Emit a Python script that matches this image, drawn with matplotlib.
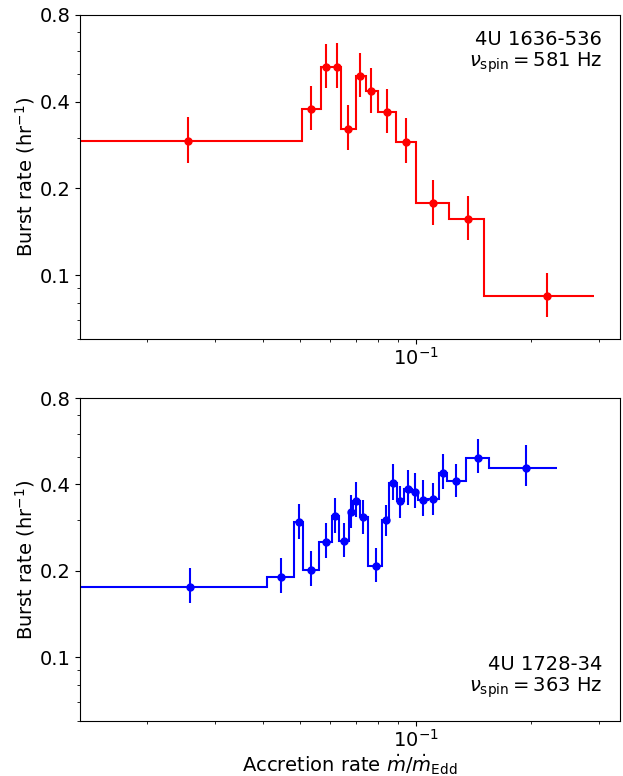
import numpy as np
import matplotlib
matplotlib.use("Agg")
import matplotlib.pyplot as plt
from matplotlib.ticker import NullFormatter


# 4U 1636-536 (top panel, red)
edges_1636 = [0.013, 0.05057, 0.05675, 0.06026, 0.06387, 0.06986, 0.07416,
              0.07998, 0.08874, 0.1002, 0.1220, 0.1502, 0.2905]
mdot_1636 = [0.02563, 0.05356, 0.05848, 0.06235, 0.06683, 0.07168, 0.07655,
             0.08409, 0.09419, 0.1111, 0.1365, 0.2197]
rate_1636 = [0.2922, 0.3773, 0.528, 0.528, 0.3223, 0.4913, 0.4357,
             0.3676, 0.2898, 0.1775, 0.1567, 0.0848]
rate_hi_1636 = [0.354, 0.4534, 0.6345, 0.6396, 0.3894, 0.5918, 0.5237,
                0.4426, 0.3511, 0.2141, 0.1886, 0.1019]
rate_lo_1636 = [0.2450, 0.3190, 0.4463, 0.4463, 0.2718, 0.4153, 0.3664,
                0.3114, 0.2450, 0.1494, 0.1324, 0.0716]

# 4U 1728-34 (bottom panel, blue)
edges_1728 = [0.013, 0.04102, 0.04829, 0.05106, 0.05619, 0.06050, 0.06321,
              0.06692, 0.06886, 0.07168, 0.07531, 0.08177, 0.08541, 0.08925,
              0.09341, 0.09763, 0.1016, 0.1078, 0.1150, 0.1206, 0.1349,
              0.1550, 0.2328]
mdot_1728 = [0.02593, 0.04468, 0.04975, 0.05356, 0.05830, 0.06179, 0.06501,
             0.06779, 0.06997, 0.07311, 0.07865, 0.08374, 0.08716, 0.09104,
             0.09533, 0.09959, 0.1043, 0.1111, 0.1175, 0.1276, 0.1449, 0.1934]
rate_1728 = [0.1761, 0.1904, 0.2949, 0.2018, 0.2524, 0.3096, 0.2550,
             0.3207, 0.3505, 0.3084, 0.2082, 0.3015, 0.4045, 0.3491,
             0.3855, 0.3764, 0.3539, 0.3559, 0.4401, 0.4110, 0.4962, 0.4581]
rate_hi_1728 = [0.2050, 0.2224, 0.3428, 0.2348, 0.2933, 0.3596, 0.2928,
                0.3683, 0.4087, 0.3539, 0.2409, 0.3401, 0.4707, 0.3936,
                0.4498, 0.4380, 0.4130, 0.4045, 0.5110, 0.4701, 0.5750, 0.5495]
rate_lo_1728 = [0.1549, 0.1678, 0.2585, 0.1769, 0.2220, 0.2718, 0.2241,
                0.2830, 0.3081, 0.2692, 0.1822, 0.2653, 0.3539, 0.3057,
                0.3401, 0.3312, 0.3114, 0.3138, 0.3855, 0.3625, 0.4380, 0.3936]

y_ticks = [0.1, 0.2, 0.4, 0.8]
y_tick_labels = ["0.1", "0.2", "0.4", "0.8"]

plt.rcParams["font.size"] = 14

fig = plt.figure(figsize=(6.23, 7.76), dpi=100)
ax_top = fig.add_axes([80 / 623, 1 - 339 / 776, 540 / 623, 324 / 776])
ax_bot = fig.add_axes([80 / 623, 1 - 721 / 776, 540 / 623, 323 / 776])


def draw_panel(ax, edges, x, y, lo, hi, color, label, text_y, va):
    y = np.array(y)
    yerr = [y - np.array(lo), np.array(hi) - y]
    ax.stairs(y, edges, baseline=None, color=color, lw=1.5)
    ax.errorbar(x, y, yerr=yerr, fmt="o", color=color, ms=5, elinewidth=1.5,
                capsize=0)
    ax.set_xscale("log")
    ax.set_yscale("log")
    ax.set_xlim(0.0134, 0.34)
    ax.set_ylim(0.06, 0.8)
    ax.set_yticks(y_ticks, y_tick_labels)
    ax.yaxis.set_minor_formatter(NullFormatter())
    ax.xaxis.set_minor_formatter(NullFormatter())
    ax.tick_params(axis="x", pad=2)
    ax.set_ylabel(r"Burst rate (hr$^{-1}$)", labelpad=2)
    ax.text(0.967, text_y, label, transform=ax.transAxes, ha="right", va=va,
            multialignment="right", linespacing=1.1)


draw_panel(ax_top, edges_1636, mdot_1636, rate_1636, rate_lo_1636, rate_hi_1636,
           "red", "4U 1636-536\n" + r"$\nu_{\rm spin} = 581$ Hz", 0.955, "top")
draw_panel(ax_bot, edges_1728, mdot_1728, rate_1728, rate_lo_1728, rate_hi_1728,
           "blue", "4U 1728-34\n" + r"$\nu_{\rm spin} = 363$ Hz", 0.065, "bottom")
ax_bot.set_xlabel(r"Accretion rate $\dot{m}/\dot{m}_{\rm Edd}$", labelpad=1)

fig.savefig("out.png", dpi=100)
